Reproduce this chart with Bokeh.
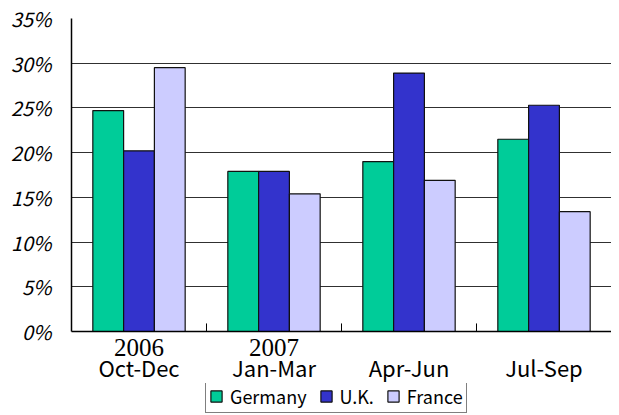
from bokeh.plotting import figure
from bokeh.layouts import column
from bokeh.models import FactorRange, Range1d, FixedTicker, PrintfTickFormatter, Legend, LegendItem, ColumnDataSource
from bokeh.transform import dodge
from bokeh.core.properties import value
from bokeh.embed import file_html
from bokeh.resources import INLINE

quarters = ["Oct-Dec", "Jan-Mar", "Apr-Jun", "Jul-Sep"]
years = ["2006", "2007", "", ""]
germany = [24.7, 17.9, 19.0, 21.5]
uk = [20.2, 17.9, 28.9, 25.3]
france = [29.5, 15.4, 16.9, 13.4]
y_ticks = [0, 5, 10, 15, 20, 25, 30, 35]

series = [("Germany", "germany", "#00CC99"), ("U.K.", "uk", "#3333CC"), ("France", "france", "#CCCCFF")]

src = ColumnDataSource(dict(q=quarters, yr=years, germany=germany, uk=uk, france=france,
                            zero=[0] * 4))

W = 611
p = figure(x_range=FactorRange(*quarters, range_padding=0), y_range=Range1d(0, 35),
           width=W, height=383, output_backend="svg", toolbar_location=None,
           min_border_left=71, min_border_right=0, min_border_top=18, min_border_bottom=52)
p.outline_line_color = None
p.background_fill_color = "white"
p.border_fill_color = "white"

bw = 0.228
offsets = [-bw, 0, bw]
for (name, key, col), off in zip(series, offsets):
    p.vbar(x=dodge("q", off, range=p.x_range), top=key, width=bw, source=src,
           fill_color=col, line_color="#111111", line_width=1.2)

# category boundary tick marks
tsrc = ColumnDataSource(dict(q=quarters[:-1], zero=[0] * 3, tk=[0.9] * 3))
p.segment(x0=dodge("q", 0.5, range=p.x_range), x1=dodge("q", 0.5, range=p.x_range),
          y0="zero", y1="tk", source=tsrc, line_color="black", line_width=1)

# y axis
p.yaxis.ticker = FixedTicker(ticks=y_ticks)
p.yaxis.formatter = PrintfTickFormatter(format="%d%%")
p.yaxis.major_label_text_font = "Noto Sans CJK JP"
p.yaxis.major_label_text_font_style = "italic"
p.yaxis.major_label_text_font_size = "20px"
p.yaxis.major_label_text_color = "black"
p.yaxis.major_tick_out = 0
p.yaxis.major_tick_in = 0
p.yaxis.minor_tick_line_color = None
p.yaxis.major_label_standoff = 20
p.yaxis.axis_line_color = "black"
p.yaxis.axis_line_width = 1.5

# x axis
p.xaxis.major_label_text_color = None
p.xaxis.major_label_text_font_size = "10px"
p.xaxis.major_tick_line_color = None
p.xaxis.major_tick_out = 0
p.xaxis.axis_line_color = "black"
p.xaxis.axis_line_width = 1.5

p.xgrid.grid_line_color = None
p.ygrid.ticker = FixedTicker(ticks=y_ticks)
p.ygrid.grid_line_color = "#303030"
p.ygrid.grid_line_width = 1

# x labels: years (serif) and quarters (gothic)
p.text(x="q", y="zero", text="yr", source=src, text_font=value("Liberation Serif"),
       text_font_size="25px", text_align="center", text_baseline="alphabetic",
       y_offset=16, text_color="black", level="overlay")
p.text(x="q", y="zero", text="q", source=src, text_font=value("Noto Sans CJK JP"),
       text_font_size="22px", text_align="center", text_baseline="alphabetic",
       y_offset=35, text_color="black", level="overlay")

# legend strip below the chart (its bars lie outside its visible range)
p2 = figure(width=W, height=30, output_backend="svg", toolbar_location=None,
            x_range=FactorRange(*quarters), y_range=Range1d(1000, 1001),
            x_axis_location=None, y_axis_location=None,
            min_border=0, min_border_left=71, min_border_right=0,
            min_border_top=0, min_border_bottom=0)
p2.outline_line_color = None
p2.xgrid.grid_line_color = None
p2.ygrid.grid_line_color = None
items = []
for name, key, col in series:
    r = p2.vbar(x="q", top=key, width=0.2, source=src, fill_color=col,
                line_color="#111111", line_width=1.2)
    items.append(LegendItem(label=name, renderers=[r]))

legend = Legend(items=items, orientation="horizontal", location=(134, 0),
                label_text_font="Noto Sans CJK JP", label_text_font_size="18px",
                label_text_color="black", label_height=18, glyph_width=14,
                glyph_height=14, label_standoff=7, spacing=12, padding=3, margin=0,
                border_line_color="black", border_line_width=1, background_fill_alpha=1)
p2.add_layout(legend, "center")

layout = column(p, p2, spacing=0)
open("out.html", "w").write(file_html(layout, INLINE))
